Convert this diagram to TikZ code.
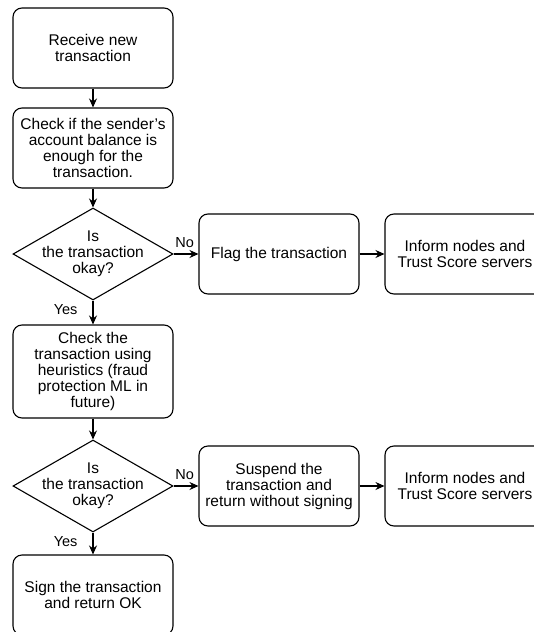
\documentclass[tikz,border=0pt]{standalone}
\usepackage{fontspec}
\setmainfont{Liberation Sans}[Ligatures=ResetAll]
\usetikzlibrary{shapes.geometric,arrows.meta}
\begin{document}
\begin{tikzpicture}[x=1pt,y=-1pt,line width=1.1pt,>={Stealth[length=9pt,width=8pt]},
box/.style={draw,rounded corners=9pt,minimum width=160pt,minimum height=80pt,inner sep=1pt,align=center,font=\fontsize{15.5}{16}\selectfont},
decision/.style={draw,diamond,minimum width=160pt,minimum height=92pt,inner sep=0pt},
txt/.style={align=center,font=\fontsize{15.5}{16}\selectfont},
lbl/.style={inner sep=0pt,font=\fontsize{14.5}{16}\selectfont}]
\useasboundingbox (0,0) rectangle (534,632);
\node[box] (recv) at (93,48) {Receive new\\transaction};
\node[box] (balance) at (93,148) {Check if the sender's\\account balance is\\enough for the\\transaction.};
\node[decision] (okay1) at (93,254) {};
\node[txt] at (okay1) {Is\\the transaction\\okay?};
\node[box] (flag) at (279,254) {Flag the transaction};
\node[box] (inform1) at (465,254) {Inform nodes and\\Trust Score servers};
\node[box,minimum height=93pt] (heuristics) at (93,371.5) {Check the\\transaction using\\heuristics (fraud\\protection ML in\\future)};
\node[decision] (okay2) at (93,486) {};
\node[txt] at (okay2) {Is\\the transaction\\okay?};
\node[box] (suspend) at (279,486) {Suspend the\\transaction and\\return without signing};
\node[box] (inform2) at (465,486) {Inform nodes and\\Trust Score servers};
\node[box] (sign) at (93,595) {Sign the transaction\\and return OK};
\draw[->] (recv)--(balance);
\draw[->] (balance)--(okay1);
\draw[->] (okay1)--node[lbl,pos=0.45,above=6pt]{No}(flag);
\draw[->] (flag)--(inform1);
\draw[->] (okay1)--node[lbl,pos=0.36,left=15pt]{Yes}(heuristics);
\draw[->] (heuristics)--(okay2);
\draw[->] (okay2)--node[lbl,pos=0.45,above=6pt]{No}(suspend);
\draw[->] (suspend)--(inform2);
\draw[->] (okay2)--node[lbl,pos=0.39,left=15pt]{Yes}(sign);
\end{tikzpicture}
\end{document}
